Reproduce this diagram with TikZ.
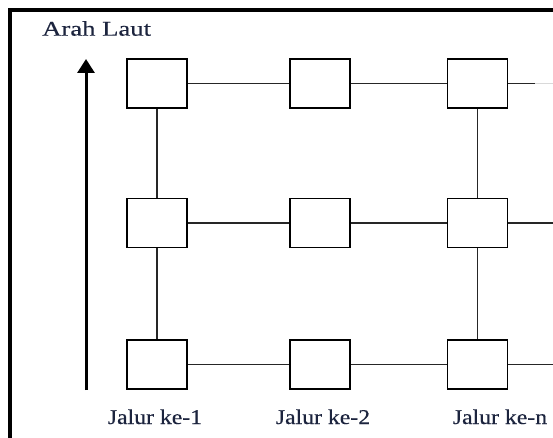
\documentclass[tikz,border=0pt]{standalone}
\usepackage{fontspec}
\setmainfont{Liberation Serif}[FakeBold=0.4]
\usetikzlibrary{arrows.meta}
\definecolor{inkblue}{RGB}{28,36,62}
\tikzset{
  unit/.style={draw=black, line width=1.8pt, fill=white, minimum width=60pt, minimum height=49pt, inner sep=0pt},
  link/.style={draw=black!85, line width=1.7pt},
  lbl/.style={text=inkblue, inner sep=0pt},
}
\newcommand{\lbltext}[2]{\scalebox{#1}[1]{\fontsize{21}{22}\selectfont #2}}
\begin{document}
\begin{tikzpicture}[x=1pt,y=-1pt]
\useasboundingbox (0,0) rectangle (553,438);
% outer frame (open to the right and bottom)
\draw[line width=3.4pt] (10,438) -- (10,10) -- (553,10);

% grid of units
\foreach \c/\x in {1/157,2/320,3/477.5}{
  \foreach \r/\y in {1/83.5,2/223,3/364.5}{
    \node[unit] (u\c\r) at (\x,\y) {};
  }
}
% free ends on the right
\coordinate (e1) at (535,83.5);
\coordinate (f1) at (553,83.5);
\coordinate (e2) at (553,223);
\coordinate (e3) at (553,364.5);

% horizontal links
\foreach \r in {1,2,3}{
  \draw[link] (u1\r) -- (u2\r);
  \draw[link] (u2\r) -- (u3\r);
  \draw[link] (u3\r) -- (e\r);
}
\draw[black!15, line width=1pt] (e1) -- (f1);
% vertical links
\foreach \c in {1,3}{
  \draw[link] (u\c1) -- (u\c2);
  \draw[link] (u\c2) -- (u\c3);
}

% direction arrow
\coordinate (a0) at (86,390);
\coordinate (a1) at (86,59);
\draw[line width=3pt, -{Triangle[length=14pt,width=17pt]}] (a0) -- (a1);

% labels
\node[lbl, anchor=base west] (sea) at (42,35.7) {\scalebox{1.27}[1]{\fontsize{21}{22}\selectfont Arah Laut}};
\node[lbl, anchor=base] (j1) at (155,424) {\lbltext{1.13}{Jalur ke-1}};
\node[lbl, anchor=base] (j2) at (323,424) {\lbltext{1.13}{Jalur ke-2}};
\node[lbl, anchor=base] (jn) at (500,424) {\lbltext{1.13}{Jalur ke-n}};
\end{tikzpicture}
\end{document}
